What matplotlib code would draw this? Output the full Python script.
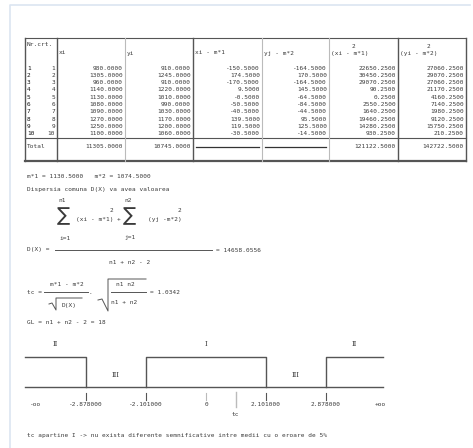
import numpy as np
import matplotlib
matplotlib.use("Agg")
import matplotlib.pyplot as plt

# data
nr_crt = list(range(1, 11))
xi = [980, 1305, 960, 1140, 1130, 1080, 1090, 1270, 1250, 1100]
yi = [910, 1245, 910, 1220, 1010, 990, 1030, 1170, 1200, 1060]
dx = [-150.5, 174.5, -170.5, 9.5, -0.5, -50.5, -40.5, 139.5, 119.5, -30.5]
dy = [-164.5, 170.5, -164.5, 145.5, -64.5, -84.5, -44.5, 95.5, 125.5, -14.5]
dx2 = [22650.25, 30450.25, 29070.25, 90.25, 0.25, 2550.25, 1640.25, 19460.25, 14280.25, 930.25]
dy2 = [27060.25, 29070.25, 27060.25, 21170.25, 4160.25, 7140.25, 1980.25, 9120.25, 15750.25, 210.25]
totals = [11305.0, 10745.0, None, None, 121122.5, 142722.5]
headers = ["xi", "yi", "xi - m*1", "yj - m*2", "(xi - m*1)", "(yi - m*2)"]
m1, m2 = 1130.5, 1074.5
dispersion = 14658.0556
tc = 1.0342
gl = 18
crit_vals = [-2.878, -2.101, 0, 2.101, 2.878]
crit_labels = ["-2.878000", "-2.101000", "0", "2.101000", "2.878000"]
regions = ["II", "III", "I", "III", "II"]

FONT = "DejaVu Sans Mono"
FS = 4.4
TXT = "#3a3a3a"
DARK = "#555555"
LIGHT = "#bbbbbb"

fig = plt.figure(figsize=(4.73, 4.48), dpi=100)
ax = fig.add_axes([0, 0, 1, 1])
ax.set_xlim(0, 473)
ax.set_ylim(448, 0)
ax.axis("off")


def txt(x, y, s, ha="left", fs=FS, color=TXT, **kw):
    ax.text(x, y, s, ha=ha, va="center", fontsize=fs, family=FONT, color=color, **kw)


# page border
ax.plot([10, 10, 470], [448, 5, 5], color="#dce5f1", lw=1.2)

# table
cols = [25, 57, 125, 193, 262, 329, 398, 466]
top, bot = 38, 161
ax.plot([cols[0], cols[-1]], [top, top], color=DARK, lw=0.8)
ax.plot([cols[0], cols[-1]], [138, 138], color=DARK, lw=0.8)
ax.plot([cols[0], cols[-1]], [bot, bot], color=DARK, lw=1.6)
for i, c in enumerate(cols):
    dark = i in (0, 1, 3, 6, 7)
    ax.plot([c, c], [top, bot], color=DARK if dark else LIGHT, lw=1.0 if dark else 0.8)

txt(27, 45, "Nr.crt.")
sup_off = {4: 23, 5: 29}
for j, h in enumerate(headers):
    txt(cols[j + 1] + 2, 53, h)
    if j in sup_off:
        txt(cols[j + 1] + sup_off[j], 47, "2")

columns = [xi, yi, dx, dy, dx2, dy2]
for r in range(len(nr_crt)):
    y = 68 + 7.3 * r
    txt(27, y, str(nr_crt[r]), color="#111111")
    txt(55, y, str(nr_crt[r]), ha="right")
    for j, col in enumerate(columns):
        txt(cols[j + 2] - 2, y, f"{col[r]:.4f}", ha="right")

txt(27, 147, "Total")
for j, t in enumerate(totals):
    if t is None:
        ax.plot([cols[j + 2 - 1] + 2.5, cols[j + 2] - 3], [147, 147], color="#333333", lw=0.9)
    else:
        txt(cols[j + 2] - 2, 147, f"{t:.4f}", ha="right")

# means and dispersion
txt(27, 177, f"m*1 = {m1:.4f}   m*2 = {m2:.4f}")
txt(27, 189, "Dispersia comuna D(X) va avea valoarea")
txt(58, 201, "n1")
txt(124, 201, "n2")
ax.text(57, 216, "\u2211", fontsize=14, family="DejaVu Sans", color=TXT, va="center")
ax.text(123, 216, "\u2211", fontsize=14, family="DejaVu Sans", color=TXT, va="center")
txt(76, 219, "(xi - m*1)")
txt(110, 211, "2")
txt(117, 219, "+")
txt(148, 219, "(yj -m*2)")
txt(178, 211, "2")
txt(59, 238, "i=1")
txt(124, 238, "j=1")
txt(27, 250, "D(X) =")
ax.plot([55, 212], [250, 250], color=DARK, lw=0.7)
txt(216, 250, f"= {dispersion:.4f}")
txt(109, 263, "n1 + n2 - 2")

# t statistic
txt(27, 292, "tc =")
txt(50, 284, "m*1 - m*2")
ax.plot([44, 88], [292, 292], color=DARK, lw=0.7)
ax.plot([49, 52, 56, 56, 82], [304, 303, 310, 298, 298], color=DARK, lw=0.7)
txt(62, 306, "D(X)")
txt(89, 293, ".")
ax.plot([98, 102, 108, 108, 146], [300, 299, 311, 279, 279], color=DARK, lw=0.7)
txt(116, 285, "n1 n2")
ax.plot([111, 146], [292, 292], color=DARK, lw=0.7)
txt(111, 302, "n1 + n2")
txt(150, 292, f"= {tc:.4f}")
txt(27, 322, f"GL = n1 + n2 - 2 = {gl}")

# decision diagram
left, right, step = 25, 383, 60
xs = [86 + step * k for k in range(len(crit_vals))]
up, base = 357, 387
ax.plot([left, right], [base, base], color=DARK, lw=1.0)
ax.plot([left, xs[0], xs[0]], [up, up, base], color=DARK, lw=1.0)
ax.plot([xs[1], xs[1], xs[3], xs[3]], [base, up, up, base], color=DARK, lw=1.0)
ax.plot([xs[4], xs[4], right], [base, up, up], color=DARK, lw=1.0)
reg_x = [(left + xs[0]) / 2, (xs[0] + xs[1]) / 2, (xs[1] + xs[3]) / 2,
         (xs[3] + xs[4]) / 2, (xs[4] + right) / 2]
for k, r in enumerate(regions):
    ry = 375 if r == "III" else 344
    ax.text(reg_x[k], ry, r, ha="center", va="center", fontsize=4.8,
            family="DejaVu Serif", color=TXT)
for k, v in enumerate(crit_vals):
    c = LIGHT if v == 0 else DARK
    ax.plot([xs[k], xs[k]], [393, 400], color=c, lw=0.8)
    txt(xs[k], 405, crit_labels[k], ha="center")
txt(30, 405, "-oo")
txt(375, 405, "+oo")
tc_x = np.interp(tc, crit_vals, xs)
ax.plot([tc_x, tc_x], [392, 407], color=LIGHT, lw=1.0)
txt(tc_x, 414, "tc", ha="center")

txt(27, 435, "tc apartine I -> nu exista diferente semnificative intre medii cu o eroare de 5%")

fig.savefig("out.png", dpi=100)
